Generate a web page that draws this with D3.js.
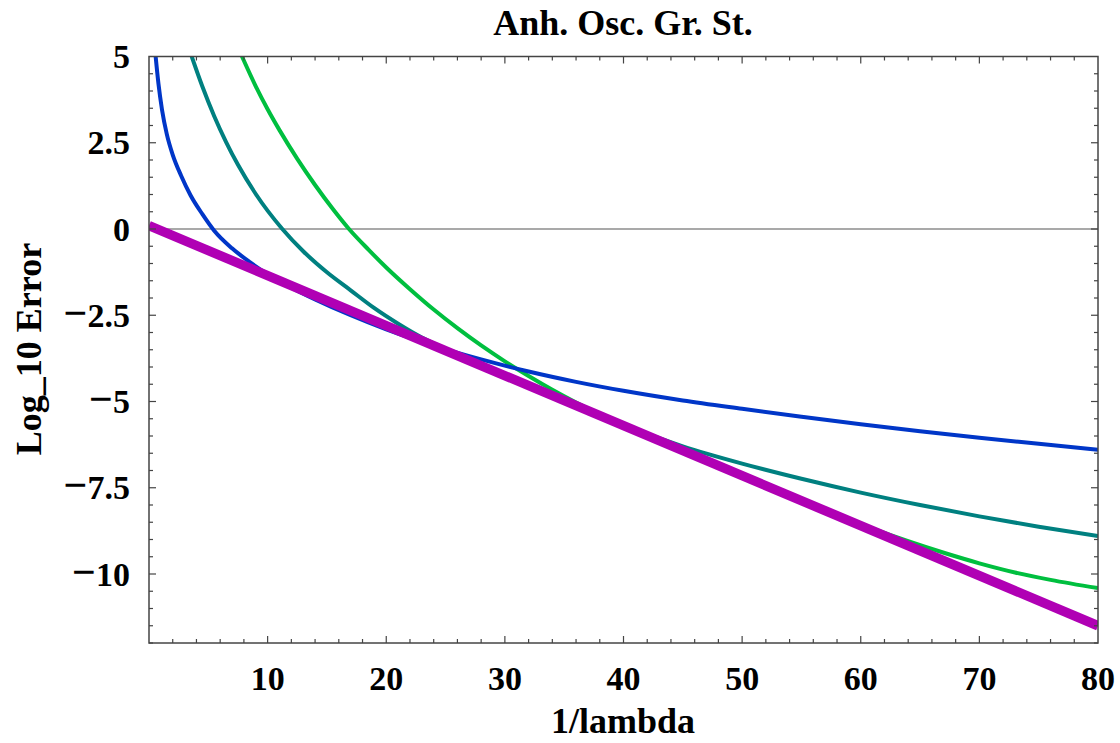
<!DOCTYPE html>
<html>
<head>
    <title>Anh. Osc. Gr. St.</title>
    <script src="https://d3js.org/d3.v7.min.js"></script>
    <style>
        body { margin: 0; background: #fff; }
        text { font-family: "Liberation Serif", "Times New Roman", serif; font-weight: bold; fill: #000; }
    </style>
</head>
<body>
    <div id="chart"></div>

    <script>
        // Data (x = 1/lambda, y = log10 error)
        var blueX  = [0.56, 0.8, 1.1, 1.5, 2.0, 2.7, 3.5, 4.5, 5.5, 7, 8.5, 10, 12, 14, 17, 20, 24, 28, 32, 36, 40, 45, 50, 55, 60, 65, 70, 75, 80];
        var blueY  = [5.0, 4.2, 3.45, 2.75, 2.15, 1.55, 0.98, 0.43, -0.05, -0.56, -0.96, -1.31, -1.7, -2.04, -2.5, -2.91, -3.38, -3.78, -4.13, -4.43, -4.69, -4.97, -5.21, -5.44, -5.66, -5.86, -6.05, -6.225, -6.4];

        var tealX  = [3.6, 4.5, 5.5, 6.5, 7.5, 9, 11.24, 13, 15, 17, 19, 21, 23, 25, 27, 30, 35, 40, 45, 50, 55, 60, 65, 70, 75, 80];
        var tealY  = [5.0, 4.13, 3.27, 2.52, 1.86, 1.015, 0.0, -0.645, -1.255, -1.777, -2.295, -2.745, -3.145, -3.475, -3.785, -4.22, -4.945, -5.68, -6.3, -6.8, -7.24, -7.64, -8.0, -8.33, -8.63, -8.9];

        var greenX = [7.8, 9, 10, 11, 12.5, 14, 15.5, 16.86, 18.5, 20, 22, 24, 26, 28, 30, 32, 34, 36, 38, 40, 45, 50, 55, 58, 61, 64, 67, 70, 73, 76, 80];
        var greenY = [5.03, 4.136, 3.471, 2.866, 2.034, 1.276, 0.579, 0.0, -0.598, -1.115, -1.745, -2.335, -2.875, -3.375, -3.835, -4.26, -4.66, -5.03, -5.375, -5.69, -6.42, -7.145, -7.87, -8.29, -8.685, -9.05, -9.385, -9.69, -9.955, -10.17, -10.41];

        var magentaX = [0, 80];
        var magentaY = [0.1, -11.5];

        var xMajorTicks = [10, 20, 30, 40, 50, 60, 70, 80];
        var yMajorTicks = [5, 2.5, 0, -2.5, -5, -7.5, -10];
        var yTickLabels = ["5", "2.5", "0", "2.5", "5", "7.5", "10"];

        var width = 1120;
        var height = 743;

        var svg = d3.select("#chart")
            .append("svg")
            .attr("width", width)
            .attr("height", height);

        // Scales
        var x = d3.scaleLinear().domain([0, 80]).range([149, 1098]);
        var y = d3.scaleLinear().domain([-12, 5]).range([643, 56.5]);

        // Clip for curves
        svg.append("clipPath").attr("id", "clip")
            .append("rect")
            .attr("x", x(0)).attr("y", y(5))
            .attr("width", x(80) - x(0)).attr("height", y(-12) - y(5));

        // Zero line
        svg.append("line")
            .attr("x1", x(0)).attr("x2", x(80))
            .attr("y1", y(0)).attr("y2", y(0))
            .attr("stroke", "#555").attr("stroke-width", 1.2);

        // Curves (magenta drawn last so it sits on top)
        var series = [
            { xs: greenX, ys: greenY, color: "#00bf3f", w: 4 },
            { xs: tealX, ys: tealY, color: "#008080", w: 4 },
            { xs: blueX, ys: blueY, color: "#0036c8", w: 4 },
            { xs: magentaX, ys: magentaY, color: "#b000b4", w: 9.5 }
        ];

        var line = d3.line()
            .x(function(d) { return x(d[0]); })
            .y(function(d) { return y(d[1]); })
            .curve(d3.curveMonotoneX);

        var curves = svg.append("g").attr("clip-path", "url(#clip)");
        series.forEach(function(s) {
            curves.append("path")
                .datum(d3.zip(s.xs, s.ys))
                .attr("fill", "none")
                .attr("stroke", s.color)
                .attr("stroke-width", s.w)
                .attr("stroke-linejoin", "round")
                .attr("d", line);
        });

        // Frame
        svg.append("rect")
            .attr("x", x(0)).attr("y", y(5))
            .attr("width", x(80) - x(0)).attr("height", y(-12) - y(5))
            .attr("fill", "none").attr("stroke", "#444").attr("stroke-width", 1.5);

        // Ticks on all sides (inward)
        var xMinor = d3.range(2, 80, 2);
        var yMinor = d3.range(-12, 5, 0.5);
        var ticks = svg.append("g").attr("stroke", "#444").attr("stroke-width", 1.2);

        xMinor.forEach(function(v) {
            var len = (v % 10 === 0) ? 7 : 4;
            ticks.append("line").attr("x1", x(v)).attr("x2", x(v)).attr("y1", y(-12)).attr("y2", y(-12) - len);
            ticks.append("line").attr("x1", x(v)).attr("x2", x(v)).attr("y1", y(5)).attr("y2", y(5) + len);
        });
        yMinor.forEach(function(v) {
            var len = (Math.abs(v % 2.5) < 1e-9) ? 7 : 4;
            ticks.append("line").attr("x1", x(0)).attr("x2", x(0) + len).attr("y1", y(v)).attr("y2", y(v));
            ticks.append("line").attr("x1", x(80)).attr("x2", x(80) - len).attr("y1", y(v)).attr("y2", y(v));
        });

        // Tick labels
        svg.selectAll(".xlabel")
            .data(xMajorTicks)
            .enter()
            .append("text")
            .attr("class", "xlabel")
            .attr("x", function(d) { return x(d); })
            .attr("y", 690)
            .attr("text-anchor", "middle")
            .style("font-size", "34px")
            .text(function(d) { return d; });

        // y labels: the minus sign is drawn a bit larger, like the original
        var yl = svg.selectAll(".ylabel")
            .data(yMajorTicks)
            .enter()
            .append("text")
            .attr("class", "ylabel")
            .attr("x", 130)
            .attr("y", function(d) { return y(d) + 11.5; })
            .attr("text-anchor", "end")
            .style("font-size", "34px");
        yl.filter(function(d) { return d < 0; })
            .append("tspan")
            .style("font-size", "42px")
            .text("\u2212");
        yl.append("tspan")
            .text(function(d, i) { return yTickLabels[yMajorTicks.indexOf(d)]; });

        // Title and axis labels
        svg.append("text")
            .attr("x", 623).attr("y", 35)
            .attr("text-anchor", "middle")
            .style("font-size", "36px")
            .text("Anh. Osc. Gr. St.");

        svg.append("text")
            .attr("x", 623).attr("y", 733)
            .attr("text-anchor", "middle")
            .style("font-size", "36px")
            .text("1/lambda");

        svg.append("text")
            .attr("transform", "translate(41,349) rotate(-90)")
            .attr("text-anchor", "middle")
            .style("font-size", "36px")
            .text("Log_10 Error");
    </script>
</body>
</html>
